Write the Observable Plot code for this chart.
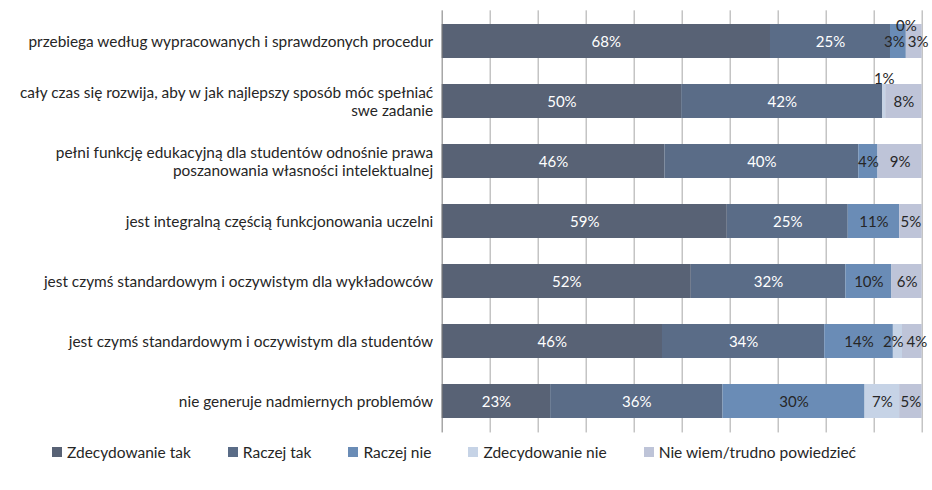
<!DOCTYPE html>
<html>
<head>
<meta charset="utf-8">
<script src="https://cdn.jsdelivr.net/npm/d3@7"></script>
<script src="https://cdn.jsdelivr.net/npm/@observablehq/plot@0.6"></script>
<style>
  html, body { margin: 0; padding: 0; background: #fff; }
  #wrap { position: relative; width: 932px; height: 490px; font-family: Lato, "Noto Sans", sans-serif; }
  #legend { position: absolute; left: 52px; top: 443px; display: flex; gap: 37px; align-items: center;
            font-size: 15.5px; color: #262626; white-space: nowrap; }
  #legend .item { display: flex; align-items: center; gap: 5px; }
  #legend .sw { width: 10px; height: 10px; display: inline-block; }
</style>
</head>
<body>
<div id="wrap">
  <div id="chart"></div>
  <div id="legend"></div>
</div>
<script>
// ---- data ----
const categories = [
  "przebiega według wypracowanych i sprawdzonych procedur",
  "cały czas się rozwija, aby w jak najlepszy sposób móc spełniać swe zadanie",
  "pełni funkcję edukacyjną dla studentów odnośnie prawa poszanowania własności intelektualnej",
  "jest integralną częścią funkcjonowania uczelni",
  "jest czymś standardowym i oczywistym dla wykładowców",
  "jest czymś standardowym i oczywistym dla studentów",
  "nie generuje nadmiernych problemów"
];
const tickLabels = [
  "przebiega według wypracowanych i sprawdzonych procedur",
  "cały czas się rozwija, aby w jak najlepszy sposób móc spełniać\nswe zadanie",
  "pełni funkcję edukacyjną dla studentów odnośnie prawa\nposzanowania własności intelektualnej",
  "jest integralną częścią funkcjonowania uczelni",
  "jest czymś standardowym i oczywistym dla wykładowców",
  "jest czymś standardowym i oczywistym dla studentów",
  "nie generuje nadmiernych problemów"
];
const series = ["Zdecydowanie tak", "Raczej tak", "Raczej nie", "Zdecydowanie nie", "Nie wiem/trudno powiedzieć"];
const zdecydowanieTak = [68.4, 49.9, 46.4, 59.4, 51.9, 45.9, 22.6];
const raczejTak       = [25.0, 41.9, 40.4, 25.2, 32.2, 33.8, 35.9];
const raczejNie       = [3.3,  null, 4.0,  10.7, 9.6,  14.3, 29.6];
const zdecydowanieNie = [0,    0.6,  null, null, null, 1.9,  7.2];
const nieWiem         = [3.3,  7.6,  9.2,  4.7,  6.3,  4.1,  4.7];
const seriesColors = ["#586275", "#5a6c87", "#6a8cb6", "#c6d3e6", "#bec4d8"];
const xTicks = [0, 10, 20, 30, 40, 50, 60, 70, 80, 90, 100];

// ---- build tables ----
const valueSets = [zdecydowanieTak, raczejTak, raczejNie, zdecydowanieNie, nieWiem];
const rows = [];
categories.forEach((c, i) => {
  valueSets.forEach((arr, j) => {
    const v = arr[i];
    if (v != null) rows.push({cat: c, series: series[j], value: v, si: j});
  });
});

// label positions (centered in segments; tiny ones lifted above, crowded ones nudged apart)
const labelFont = 15;
const pxPerUnit = (921.67 - 441.67) / 100;
const textWidth = t => ((t.length - 1) * 0.58 + 0.8) * labelFont;
const labels = [];
categories.forEach((c, i) => {
  let cum = 0;
  const inBar = [];
  valueSets.forEach((arr, j) => {
    const v = arr[i];
    if (v == null) return;
    const text = Math.round(v) + "%";
    const lab = {cat: c, text, x: cum + v / 2, si: j, lift: v < 0.5 ? 1 : (v < 1 ? 2 : 0)};
    cum += v;
    labels.push(lab);
    if (!lab.lift) inBar.push(lab);
  });
  for (let k = 1; k < inBar.length; k++) {
    const a = inBar[k - 1], b = inBar[k];
    const sep = ((textWidth(a.text) + textWidth(b.text)) / 2 + 3) / pxPerUnit;
    const d = b.x - a.x;
    if (d < sep) { a.x -= (sep - d) / 2; b.x += (sep - d) / 2; }
  }
});
const whiteLabels = labels.filter(d => d.si < 2 && !d.lift);
const darkLabels = labels.filter(d => d.si >= 2 && !d.lift);
const liftLow = labels.filter(d => d.lift === 1);
const liftHigh = labels.filter(d => d.lift === 2);

const textOpts = {y: "cat", x: "x", text: "text", fontSize: labelFont, dy: 1};

const chart = Plot.plot({
  width: 932,
  height: 440,
  marginLeft: 441.67,
  marginRight: 10.33,
  marginTop: 10.35,
  marginBottom: 7.55,
  style: {fontFamily: "Lato, 'Noto Sans', sans-serif", fontSize: "15.4px", color: "#262626", background: "#fff"},
  x: {domain: [0, 100], axis: null},
  y: {domain: categories, paddingInner: 0.43, paddingOuter: 0.215, label: null},
  color: {domain: series, range: seriesColors},
  marks: [
    Plot.ruleX(xTicks.slice(1), {stroke: "#a6a6a6", strokeWidth: 1}),
    Plot.barX(rows, Plot.stackX({x: "value", y: "cat", fill: "series", order: null})),
    Plot.ruleX([0], {stroke: "#7a7a7a", strokeWidth: 1}),
    Plot.axisY({tickSize: 0, tickPadding: 9, fontSize: 15.4, lineHeight: 1.17,
                tickFormat: d => tickLabels[categories.indexOf(d)], label: null}),
    Plot.text(whiteLabels, {...textOpts, fill: "#ffffff"}),
    Plot.text(darkLabels, {...textOpts, fill: "#262626"}),
    Plot.text(liftLow, {...textOpts, fill: "#262626", dy: -15}),
    Plot.text(liftHigh, {...textOpts, fill: "#262626", dy: -22})
  ]
});
document.getElementById("chart").appendChild(chart);

// legend
const legend = document.getElementById("legend");
series.forEach((s, j) => {
  const item = document.createElement("div");
  item.className = "item";
  const sw = document.createElement("span");
  sw.className = "sw";
  sw.style.background = seriesColors[j];
  const t = document.createElement("span");
  t.textContent = s;
  item.appendChild(sw);
  item.appendChild(t);
  legend.appendChild(item);
});
</script>
</body>
</html>
